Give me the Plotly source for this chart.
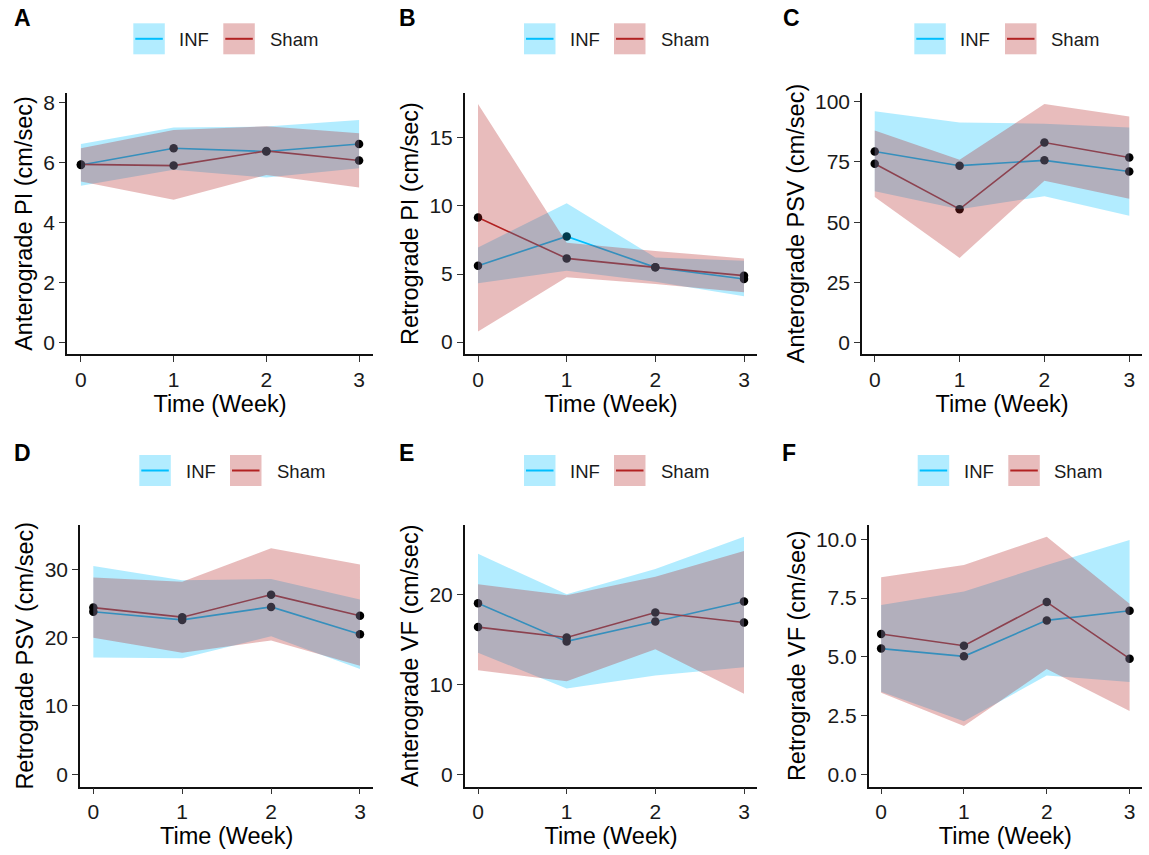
import plotly.graph_objects as go

W, H = 1149, 855

weeks = [0, 1, 2, 3]
x_ticks = [0, 1, 2, 3]

# Panel A: Anterograde PI
a_inf_mean = [5.93, 6.49, 6.38, 6.63]
a_inf_lo = [5.24, 5.77, 5.51, 5.82]
a_inf_hi = [6.63, 7.18, 7.21, 7.43]
a_sham_mean = [5.95, 5.91, 6.40, 6.08]
a_sham_lo = [5.38, 4.77, 5.60, 5.18]
a_sham_hi = [6.49, 7.10, 7.22, 6.99]
a_yticks = [0, 2, 4, 6, 8]

# Panel B: Retrograde PI
b_inf_mean = [5.61, 7.76, 5.49, 4.63]
b_inf_lo = [4.32, 5.24, 4.44, 3.37]
b_inf_hi = [6.95, 10.2, 6.22, 5.98]
b_sham_mean = [9.15, 6.15, 5.49, 4.88]
b_sham_lo = [0.78, 4.76, 4.27, 3.66]
b_sham_hi = [17.5, 7.3, 6.7, 6.15]
b_yticks = [0, 5, 10, 15]

# Panel C: Anterograde PSV
c_inf_mean = [79.3, 73.4, 75.6, 71.0]
c_inf_lo = [62.8, 55.4, 60.7, 52.7]
c_inf_hi = [95.9, 91.3, 90.8, 89.2]
c_sham_mean = [74.2, 55.4, 83.0, 76.8]
c_sham_lo = [60.4, 35.2, 67.2, 59.7]
c_sham_hi = [88.0, 75.9, 98.9, 93.8]
c_yticks = [0, 25, 50, 75, 100]

# Panel D: Retrograde PSV
d_inf_mean = [23.8, 22.6, 24.5, 20.5]
d_inf_lo = [17.1, 17.0, 20.2, 15.4]
d_inf_hi = [30.5, 28.4, 28.6, 25.6]
d_sham_mean = [24.4, 23.0, 26.3, 23.2]
d_sham_lo = [20.0, 17.8, 19.6, 15.9]
d_sham_hi = [28.8, 28.2, 33.1, 30.7]
d_yticks = [0, 10, 20, 30]

# Panel E: Anterograde VF
e_inf_mean = [19.0, 14.76, 16.97, 19.19]
e_inf_lo = [13.5, 9.52, 10.96, 11.9]
e_inf_hi = [24.5, 20.0, 22.8, 26.4]
e_sham_mean = [16.35, 15.2, 17.97, 16.86]
e_sham_lo = [11.55, 10.33, 13.9, 8.93]
e_sham_hi = [21.1, 19.9, 21.96, 24.8]
e_yticks = [0, 10, 20]

# Panel F: Retrograde VF
f_inf_mean = [5.35, 5.02, 6.55, 6.96]
f_inf_lo = [3.51, 2.26, 4.20, 3.93]
f_inf_hi = [7.21, 7.78, 8.91, 9.97]
f_sham_mean = [5.97, 5.47, 7.33, 4.92]
f_sham_lo = [3.47, 2.05, 4.48, 2.69]
f_sham_hi = [8.39, 8.91, 10.11, 7.26]
f_yticks = [0.0, 2.5, 5.0, 7.5, 10.0]

group_names = ["INF", "Sham"]
letters = ["A", "B", "C", "D", "E", "F"]
y_titles = ["Anterograde PI (cm/sec)", "Retrograde PI (cm/sec)", "Anterograde PSV (cm/sec)",
            "Retrograde PSV (cm/sec)", "Anterograde VF (cm/sec)", "Retrograde VF (cm/sec)"]
x_title = "Time (Week)"

panels = [
    (a_inf_mean, a_inf_lo, a_inf_hi, a_sham_mean, a_sham_lo, a_sham_hi, a_yticks, [str(v) for v in a_yticks]),
    (b_inf_mean, b_inf_lo, b_inf_hi, b_sham_mean, b_sham_lo, b_sham_hi, b_yticks, [str(v) for v in b_yticks]),
    (c_inf_mean, c_inf_lo, c_inf_hi, c_sham_mean, c_sham_lo, c_sham_hi, c_yticks, [str(v) for v in c_yticks]),
    (d_inf_mean, d_inf_lo, d_inf_hi, d_sham_mean, d_sham_lo, d_sham_hi, d_yticks, [str(v) for v in d_yticks]),
    (e_inf_mean, e_inf_lo, e_inf_hi, e_sham_mean, e_sham_lo, e_sham_hi, e_yticks, [str(v) for v in e_yticks]),
    (f_inf_mean, f_inf_lo, f_inf_hi, f_sham_mean, f_sham_lo, f_sham_hi, f_yticks, ["%.1f" % v for v in f_yticks]),
]

# layout (pixels)
y_ranges = [[-0.37, 8.33], [-0.875, 18.3], [-4.6, 103.5], [-1.8, 36.5], [-1.37, 27.7], [-0.52, 10.61]]
x_range = [-0.15, 3.15]
dom_px = [
    ((67, 373), (93, 354)),
    ((464.7, 757.3), (93, 354)),
    ((862, 1142), (93, 354)),
    ((80, 373.3), (525, 786.5)),
    ((464.7, 757.3), (525, 786.5)),
    ((868.7, 1142), (525, 786.5)),
]
legend_px = [  # blue rect x0, pink rect x0, INF text x, Sham text x, rect y0
    (133.3, 223.3, 178, 269.3, 23.3),
    (524, 614, 569, 659.7, 23.3),
    (914.3, 1005, 959.3, 1050, 23.3),
    (139.3, 230, 185, 275.7, 455),
    (524, 614, 569, 659.7, 455),
    (917.7, 1008.3, 962.7, 1053.3, 455),
]
letter_px = [(12, 18), (397, 18), (781, 18), (12, 453), (397, 453), (780, 453)]

INF_LINE = "rgb(0,191,255)"
SHAM_LINE = "rgb(178,34,34)"
INF_FILL = "rgba(0,191,255,0.3)"
SHAM_FILL = "rgba(178,34,34,0.3)"
FONT = "Liberation Sans, Arial, sans-serif"

def px_x(v):
    return v / W

def px_y(v):
    return 1 - v / H

fig = go.Figure()
shapes = []
annotations = []

for i, (im, il, ih, sm, sl, sh, yt, ytt) in enumerate(panels):
    n = "" if i == 0 else str(i + 1)
    xa, ya = "x" + n, "y" + n
    for mean, col in ((im, INF_LINE), (sm, SHAM_LINE)):
        fig.add_trace(go.Scatter(x=weeks, y=mean, mode="lines", line=dict(color=col, width=1.6),
                                 xaxis=xa, yaxis=ya, showlegend=False, hoverinfo="skip"))
    for mean in (im, sm):
        fig.add_trace(go.Scatter(x=weeks, y=mean, mode="markers", marker=dict(color="black", size=8.5),
                                 xaxis=xa, yaxis=ya, showlegend=False, hoverinfo="skip"))
    for lo, hi, fc, name in ((il, ih, INF_FILL, "INF"), (sl, sh, SHAM_FILL, "Sham")):
        fig.add_trace(go.Scatter(x=weeks + weeks[::-1], y=hi + lo[::-1], mode="lines", fill="toself",
                                 fillcolor=fc, line=dict(width=0), name=name,
                                 xaxis=xa, yaxis=ya, showlegend=False, hoverinfo="skip"))
    (x0, x1), (y0, y1) = dom_px[i]
    axis_common = dict(showline=True, linecolor="#111111", linewidth=1.5, ticks="outside",
                       ticklen=6, tickwidth=1.2, tickcolor="#333333", showgrid=False, zeroline=False,
                       automargin=False, tickfont=dict(family=FONT, size=21, color="#1a1a1a"))
    fig.layout["xaxis" + n] = dict(domain=[px_x(x0), px_x(x1)], anchor=ya, range=x_range,
                                   tickvals=x_ticks, ticktext=[str(t) for t in x_ticks],
                                   title=dict(text=x_title, font=dict(family=FONT, size=23.5, color="black"), standoff=4),
                                   **axis_common)
    fig.layout["yaxis" + n] = dict(domain=[px_y(y1), px_y(y0)], anchor=xa, range=y_ranges[i],
                                   tickvals=yt, ticktext=ytt,
                                   title=dict(text=y_titles[i], font=dict(family=FONT, size=23.5, color="black"), standoff=4),
                                   **axis_common)
    # legend (drawn manually like ggplot keys)
    bx, pxk, tx1, tx2, ry = legend_px[i]
    for rx, fc, lc in ((bx, INF_FILL, INF_LINE), (pxk, SHAM_FILL, SHAM_LINE)):
        shapes.append(dict(type="rect", xref="paper", yref="paper", x0=px_x(rx), x1=px_x(rx + 31.5),
                           y0=px_y(ry + 31), y1=px_y(ry), fillcolor=fc, line=dict(width=0), layer="above"))
        shapes.append(dict(type="line", xref="paper", yref="paper", x0=px_x(rx + 2), x1=px_x(rx + 29.5),
                           y0=px_y(ry + 15.5), y1=px_y(ry + 15.5), line=dict(color=lc, width=2), layer="above"))
    for tx, label in ((tx1, group_names[0]), (tx2, group_names[1])):
        annotations.append(dict(text=label, x=px_x(tx - 1), y=px_y(ry + 16), xref="paper", yref="paper",
                                xanchor="left", yanchor="middle", showarrow=False,
                                font=dict(family=FONT, size=18.5, color="#1a1a1a")))
    lx, ly = letter_px[i]
    annotations.append(dict(text="<b>%s</b>" % letters[i], x=px_x(lx), y=px_y(ly), xref="paper", yref="paper",
                            xanchor="left", yanchor="middle", showarrow=False,
                            font=dict(family=FONT, size=23, color="black")))

fig.update_layout(width=W, height=H, margin=dict(l=0, r=0, t=0, b=0),
                  paper_bgcolor="white", plot_bgcolor="white", showlegend=False,
                  shapes=shapes, annotations=annotations, font=dict(family=FONT))

fig.write_html("out.html", config={"displayModeBar": False},
               post_script="document.body.style.margin='0';document.body.style.overflow='hidden';")
